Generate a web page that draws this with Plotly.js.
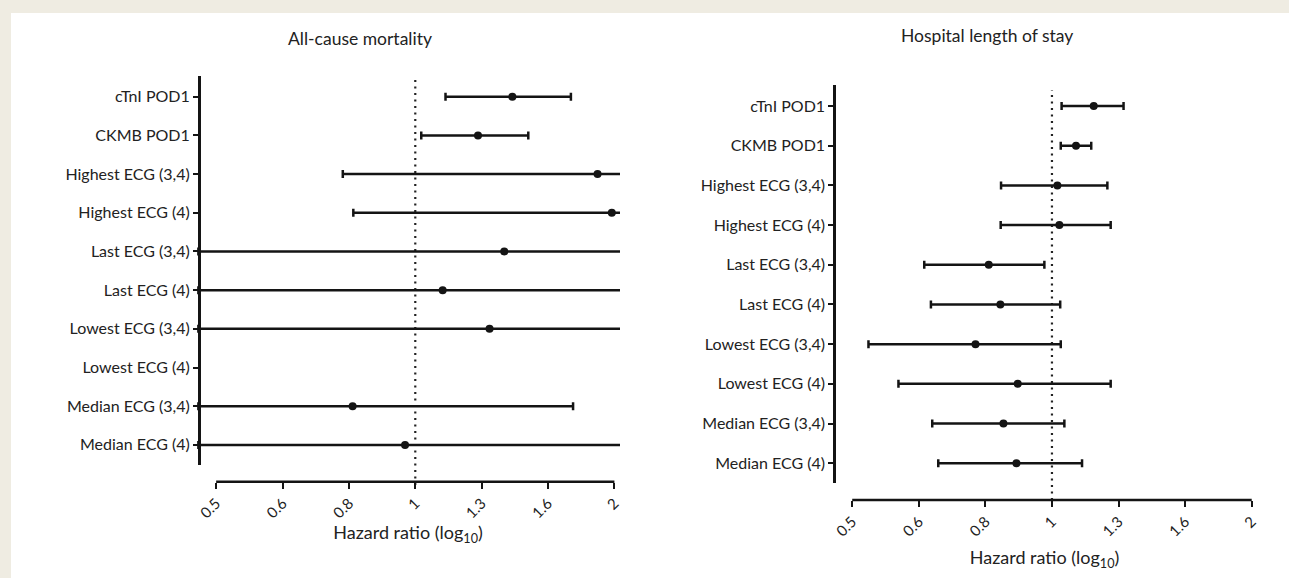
<!DOCTYPE html>
<html>
<head>
<meta charset="utf-8">
<script src="https://cdn.plot.ly/plotly-3.0.1.min.js"></script>
<style>
  html, body { margin: 0; padding: 0; background: #efece2; }
  #chart { width: 1289px; height: 578px; }
</style>
</head>
<body>
<div id="chart"></div>
<script>
// ---- data ----
const categories = ["cTnI POD1", "CKMB POD1", "Highest ECG (3,4)", "Highest ECG (4)",
  "Last ECG (3,4)", "Last ECG (4)", "Lowest ECG (3,4)", "Lowest ECG (4)",
  "Median ECG (3,4)", "Median ECG (4)"];

// All-cause mortality (hazard ratio, 95% CI); bounds beyond the drawn range are estimates
const mortHR   = [1.402, 1.244, 1.886, 1.982, 1.363, 1.100, 1.295, null, 0.804, 0.965];
const mortLow  = [1.111, 1.021, 0.777, 0.806, 0.470, 0.470, 0.470, null, 0.470, 0.470];
const mortHigh = [1.719, 1.482, 2.200, 2.200, 2.200, 2.200, 2.200, null, 1.732, 2.200];

// Hospital length of stay
const losHR   = [1.156, 1.087, 1.019, 1.026, 0.803, 0.836, 0.767, 0.888, 0.845, 0.884];
const losLow  = [1.034, 1.031, 0.838, 0.837, 0.642, 0.657, 0.529, 0.587, 0.660, 0.674];
const losHigh = [1.282, 1.146, 1.212, 1.226, 0.974, 1.029, 1.031, 1.226, 1.044, 1.110];

const tickVals = [0.5, 0.63, 0.794, 1, 1.26, 1.587, 2];
const tickText = ["0.5", "0.6", "0.8", "1", "1.3", "1.6", "2"];

const panelTitles = ["All-cause mortality", "Hospital length of stay"];
const xTitle = "Hazard ratio (log<sub>10</sub>)";

// ---- helpers ----
const W = 1289, H = 578;
const px = v => v / W;
const py = v => 1 - v / H;
const FONT = "Lato, 'Open Sans', sans-serif";
const INK = "#141414";
const TXT = "#222222";

function plus(hr, hi) { return hr.map((v, i) => v == null ? null : hi[i] - v); }
function minus(hr, lo) { return hr.map((v, i) => v == null ? null : v - lo[i]); }

function forestTrace(hr, lo, hi, xa, ya) {
  return {
    type: "scatter", mode: "markers",
    x: hr, y: categories, xaxis: xa, yaxis: ya,
    marker: { color: INK, size: 8, symbol: "circle" },
    error_x: {
      type: "data", symmetric: false,
      array: plus(hr, hi), arrayminus: minus(hr, lo),
      color: INK, thickness: 2.5, width: 4
    },
    cliponaxis: true, hoverinfo: "skip", showlegend: false
  };
}

const traces = [
  forestTrace(mortHR, mortLow, mortHigh, "x", "y"),
  forestTrace(losHR, losLow, losHigh, "x2", "y2")
];

function xAxis(dom, rng, pos, standoff) {
  return {
    type: "log", domain: dom, range: rng, anchor: "free", position: pos,
    tickmode: "array", tickvals: tickVals, ticktext: tickText, tickangle: -45,
    ticks: "outside", ticklen: 6, tickwidth: 2, tickcolor: INK,
    showline: false, showgrid: false, zeroline: false,
    tickfont: { family: FONT, size: 15, color: TXT },
    title: { text: xTitle, standoff: standoff, font: { family: FONT, size: 18, color: TXT } },
    fixedrange: true
  };
}
function yAxis(dom, rng, pos) {
  return {
    type: "category", categoryorder: "array", categoryarray: categories,
    domain: dom, range: rng, anchor: "free", position: pos,
    showline: true, linewidth: 2.5, linecolor: INK,
    ticks: "outside", ticklen: 5, tickwidth: 2, tickcolor: INK,
    showgrid: false, zeroline: false,
    tickfont: { family: FONT, size: 16, color: TXT },
    fixedrange: true
  };
}

const leftAxisY = py(481.7), rightAxisY = py(500);

const layout = {
  width: W, height: H,
  margin: { l: 0, r: 0, t: 0, b: 0, pad: 0 },
  paper_bgcolor: "#efece2",
  plot_bgcolor: "rgba(0,0,0,0)",
  showlegend: false,
  xaxis:  xAxis([px(196), px(620)], [-0.3315, 0.3095], leftAxisY, 2),
  yaxis:  yAxis([py(465), py(76)], [9.52, -0.535], px(199)),
  xaxis2: xAxis([px(834), px(1255)], [-0.3285, 0.306], rightAxisY, 12),
  yaxis2: yAxis([py(482.7), py(85)], [9.49, -0.53], px(834.3)),
  shapes: [
    { type: "rect", xref: "paper", yref: "paper", x0: px(11), x1: 1, y0: 0, y1: py(13),
      fillcolor: "#ffffff", line: { width: 0 }, layer: "below" },
    { type: "line", xref: "x", yref: "paper", x0: 0.5, x1: 2, y0: leftAxisY, y1: leftAxisY,
      line: { color: INK, width: 2.5 } },
    { type: "line", xref: "x2", yref: "paper", x0: 0.5, x1: 2, y0: rightAxisY, y1: rightAxisY,
      line: { color: INK, width: 2.5 } },
    { type: "line", xref: "x", yref: "paper", x0: 1, x1: 1, y0: py(485), y1: py(77),
      line: { color: "#222", width: 2.2, dash: "2px,4.5px" }, layer: "below" },
    { type: "line", xref: "x2", yref: "paper", x0: 1, x1: 1, y0: rightAxisY, y1: py(90),
      line: { color: "#222", width: 2.2, dash: "2px,4.5px" }, layer: "below" }
  ],
  annotations: [
    { text: panelTitles[0], xref: "paper", yref: "paper", x: px(360), y: py(38),
      xanchor: "center", yanchor: "middle", showarrow: false,
      font: { family: FONT, size: 17.5, color: TXT } },
    { text: panelTitles[1], xref: "paper", yref: "paper", x: px(987), y: py(35),
      xanchor: "center", yanchor: "middle", showarrow: false,
      font: { family: FONT, size: 17.5, color: TXT } }
  ]
};

Plotly.newPlot("chart", traces, layout, { staticPlot: true, displayModeBar: false });
</script>
</body>
</html>
